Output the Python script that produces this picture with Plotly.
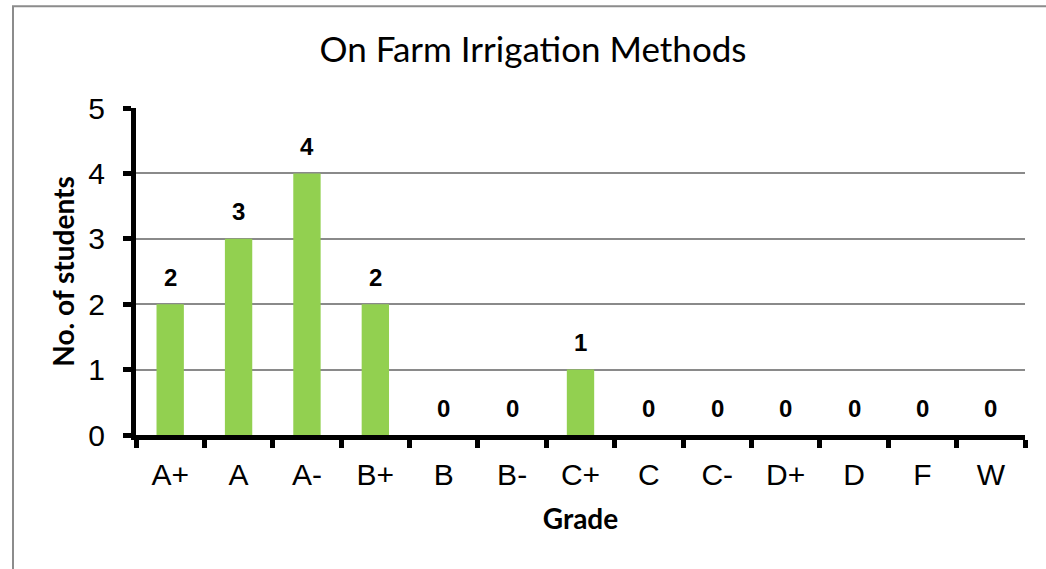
import plotly.graph_objects as go

grades = ["A+", "A", "A-", "B+", "B", "B-", "C+", "C", "C-", "D+", "D", "F", "W"]
students = [2, 3, 4, 2, 0, 0, 1, 0, 0, 0, 0, 0, 0]
y_ticks = [0, 1, 2, 3, 4, 5]

fig = go.Figure()
fig.add_trace(go.Bar(
    x=grades, y=students,
    marker=dict(color="#92D050", line=dict(width=0)),
    width=0.4,
    hoverinfo="x+y",
))

annotations = []
for g, v in zip(grades, students):
    annotations.append(dict(
        x=g, y=v, xref="x", yref="y", text=f"<b>{v}</b>",
        showarrow=False, yshift=27,
        font=dict(family="Liberation Sans, Arial, sans-serif", size=24, color="black"),
    ))

# chart border (left and top visible)
px_l, px_r, py_t, py_b = 136, 1025, 108, 435.5
W, H = px_r - px_l, py_b - py_t
bx = (13 - px_l) / W
by = (py_b - 6) / H
fig.add_shape(type="path", xref="paper", yref="paper",
              path=f"M {bx} -0.6 L {bx} {by} L 1.2 {by}",
              line=dict(color="#8c8c8c", width=2), layer="below")

fig.update_layout(
    width=1046, height=569,
    margin=dict(l=px_l, r=1046 - px_r, t=py_t, b=569 - py_b),
    paper_bgcolor="white", plot_bgcolor="white",
    showlegend=False,
    title=dict(text="On Farm Irrigation Methods", x=533 / 1046, xanchor="center",
               y=1 - 50 / 569, yanchor="middle",
               font=dict(family="Lato, sans-serif", size=35, color="black")),
    annotations=annotations,
    xaxis=dict(
        type="category", tickson="boundaries",
        showline=True, linecolor="black", linewidth=5,
        ticks="outside", ticklen=8, tickwidth=5, tickcolor="black",
        ticklabelstandoff=9,
        tickfont=dict(family="Liberation Sans, Arial, sans-serif", size=30, color="black"),
        title=dict(text="<b>Grade</b>", standoff=21,
                   font=dict(family="Lato, sans-serif", size=28, color="black")),
        showgrid=False,
    ),
    yaxis=dict(
        range=[0, 5], tickvals=y_ticks,
        showline=True, linecolor="black", linewidth=5,
        ticks="outside", ticklen=8, tickwidth=5, tickcolor="black",
        ticklabelstandoff=12,
        tickfont=dict(family="Liberation Sans, Arial, sans-serif", size=30, color="black"),
        showgrid=True, gridcolor="#8a8a8a", gridwidth=2,
        zeroline=False,
        title=dict(text="<b>No. of students</b>", standoff=7,
                   font=dict(family="Lato, sans-serif", size=28, color="black")),
    ),
)

fig.write_html("out.html", config={"displayModeBar": False},
               post_script="document.body.style.margin='0';document.documentElement.style.overflow='hidden';")
